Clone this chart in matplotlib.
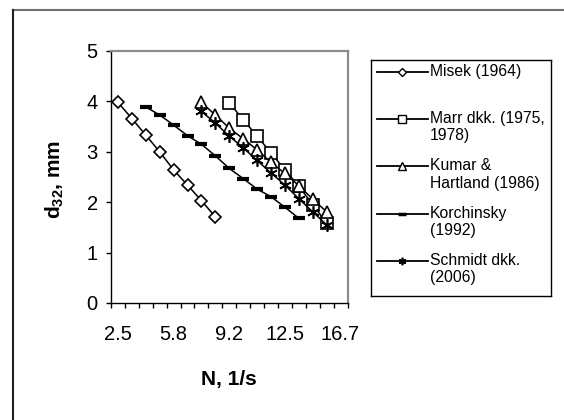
import numpy as np
import matplotlib.pyplot as plt
from matplotlib.lines import Line2D

plt.rcParams['font.family'] = ['Liberation Sans', 'DejaVu Sans']
plt.rcParams['mathtext.fontset'] = 'custom'
plt.rcParams['mathtext.rm'] = 'Liberation Sans'
plt.rcParams['mathtext.bf'] = 'Liberation Sans:bold'

# category axis (N, 1/s)
categories = ["2.5", "3.3", "4.2", "5.0", "5.8", "6.7", "7.5", "8.3", "9.2",
              "10.0", "10.8", "11.7", "12.5", "13.3", "14.2", "15.0", "16.7"]
label_every = 4

# series: (first category index, d32 values)
misek_start = 0
misek = [3.98, 3.66, 3.33, 3.00, 2.64, 2.34, 2.03, 1.71]
marr_start = 8
marr = [3.97, 3.64, 3.31, 2.98, 2.64, 2.32, 1.95, 1.59]
kumar_start = 6
kumar = [3.98, 3.73, 3.47, 3.26, 3.04, 2.79, 2.57, 2.33, 2.06, 1.81]
korch_start = 2
korch = [3.89, 3.73, 3.53, 3.32, 3.15, 2.92, 2.67, 2.47, 2.26, 2.11, 1.90, 1.68]
schmidt_start = 6
schmidt = [3.80, 3.57, 3.31, 3.08, 2.83, 2.58, 2.34, 2.07, 1.81, 1.55]

labels = ["Misek (1964)", "Marr dkk. (1975,\n1978)", "Kumar &\nHartland (1986)",
          "Korchinsky\n(1992)", "Schmidt dkk.\n(2006)"]

series = [
    (misek_start, misek, dict(marker="D", ms=6.2)),
    (marr_start, marr, dict(marker="s", ms=8.5)),
    (kumar_start, kumar, dict(marker="^", ms=9)),
    (korch_start, korch, dict(marker="_", ms=9, mew=3)),
    (schmidt_start, schmidt, dict(marker=(6, 2, 0), ms=9, mew=1.2)),
]

W, H = 564, 420
fig = plt.figure(figsize=(W / 100, H / 100), dpi=100)
ax = fig.add_axes([111 / W, 1 - 303 / H, (347.5 - 111) / W, (303 - 51) / H])

for start, vals, style in series:
    x = np.arange(start, start + len(vals))
    kw = dict(color="black", lw=1.1, mfc="white", mec="black", mew=1.2)
    kw.update(style)
    ax.plot(x, vals, **kw)

n = len(categories)
ax.set_xlim(-0.5, n - 0.5)
ax.set_ylim(0, 5)

# tick marks between categories, labels centred on every 4th category
ax.set_xticks(np.arange(-0.5, n, 1))
ax.set_xticklabels([])
lab_pos = np.arange(0, n, label_every)
ax.set_xticks(lab_pos, minor=True)
ax.set_xticklabels([categories[i] for i in lab_pos], minor=True, fontsize=14.5)
ax.tick_params(axis="x", which="major", direction="out", length=3.6, width=1)
ax.tick_params(axis="x", which="minor", length=0, pad=16)
ax.set_yticks(range(0, 6))
ax.tick_params(axis="y", direction="out", length=3.6, width=1, labelsize=14.5, pad=6)

for side in ["top", "right"]:
    ax.spines[side].set_color("#8c8c8c")
    ax.spines[side].set_linewidth(1.6)
for side in ["left", "bottom"]:
    ax.spines[side].set_color("black")
    ax.spines[side].set_linewidth(1.0)

ax.set_xlabel("N, 1/s", fontsize=15, fontweight="bold", va="center")
ax.xaxis.set_label_coords(0.5, -(380 - 303) / 252)
ax.set_ylabel(r"$\mathbf{d_{32}}$, mm", fontsize=15, fontweight="bold", va="center")
ax.yaxis.set_label_coords(-(111 - 55) / 236.5, 0.49)

# legend box drawn by hand so the handle sits at the first text line
lx0, ly0, lx1, ly1 = 370.5, 59.5, 551, 296
lax = fig.add_axes([lx0 / W, 1 - ly1 / H, (lx1 - lx0) / W, (ly1 - ly0) / H])
lax.set_xlim(0, lx1 - lx0)
lax.set_ylim(ly1 - ly0, 0)
lax.set_xticks([])
lax.set_yticks([])
for s in lax.spines.values():
    s.set_linewidth(1.0)
    s.set_color("black")
for i, (lab, (_, _, style)) in enumerate(zip(labels, series)):
    y = 12.5 + i * 47.2
    kw = dict(color="black", lw=1.3, mfc="white", mec="black", mew=1.0)
    st = dict(style)
    st["ms"] = st["ms"] * 0.6
    if st["marker"] == "_":
        st["mew"] = 2.5
    kw.update(st)
    lax.plot([6, 57], [y, y], **{k: v for k, v in kw.items() if k not in ("marker", "ms", "mfc", "mec", "mew")})
    lax.plot([31.5], [y], ls="none", **{k: v for k, v in kw.items() if k != "lw"})
    lax.text(59.5, y - 8, lab, fontsize=11.3, va="top", ha="left", linespacing=1.18)

# chart area border (top / left edges visible in the crop)
fig.add_artist(Line2D([13 / W, 1], [1 - 10 / H, 1 - 10 / H], color="#707070", lw=1.5))
fig.add_artist(Line2D([13 / W, 13 / W], [0, 1 - 10 / H], color="#202020", lw=1.5))

fig.savefig("out.png", dpi=100, facecolor="white")
